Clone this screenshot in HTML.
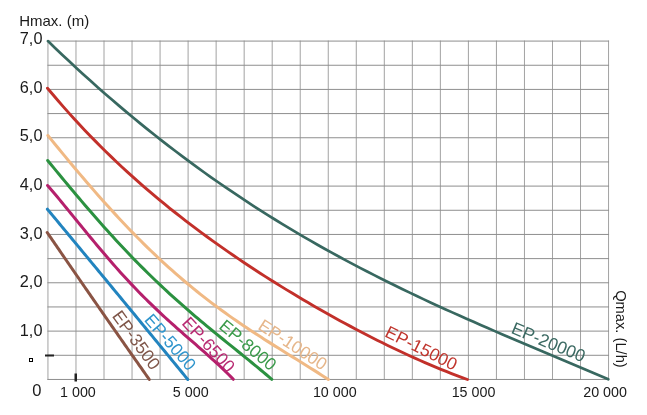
<!DOCTYPE html>
<html><head><meta charset="utf-8"><style>
html,body{margin:0;padding:0;background:#fff;}
body{width:647px;height:415px;overflow:hidden;}
svg{display:block;font-family:"Liberation Sans",sans-serif;}
svg{will-change:transform;}
</style></head><body>
<svg width="647" height="415" viewBox="0 0 647 415">
<rect width="647" height="415" fill="#fff"/>
<line x1="47.95" y1="40.58" x2="47.95" y2="379.96" stroke="#a2a2a2" stroke-width="1"/>
<line x1="75.98" y1="40.58" x2="75.98" y2="379.96" stroke="#a2a2a2" stroke-width="1"/>
<line x1="104.01" y1="40.58" x2="104.01" y2="379.96" stroke="#a2a2a2" stroke-width="1"/>
<line x1="132.04" y1="40.58" x2="132.04" y2="379.96" stroke="#a2a2a2" stroke-width="1"/>
<line x1="160.07" y1="40.58" x2="160.07" y2="379.96" stroke="#a2a2a2" stroke-width="1"/>
<line x1="188.10" y1="40.58" x2="188.10" y2="379.96" stroke="#a2a2a2" stroke-width="1"/>
<line x1="216.13" y1="40.58" x2="216.13" y2="379.96" stroke="#a2a2a2" stroke-width="1"/>
<line x1="244.16" y1="40.58" x2="244.16" y2="379.96" stroke="#a2a2a2" stroke-width="1"/>
<line x1="272.19" y1="40.58" x2="272.19" y2="379.96" stroke="#a2a2a2" stroke-width="1"/>
<line x1="300.22" y1="40.58" x2="300.22" y2="379.96" stroke="#a2a2a2" stroke-width="1"/>
<line x1="328.25" y1="40.58" x2="328.25" y2="379.96" stroke="#a2a2a2" stroke-width="1"/>
<line x1="356.28" y1="40.58" x2="356.28" y2="379.96" stroke="#a2a2a2" stroke-width="1"/>
<line x1="384.31" y1="40.58" x2="384.31" y2="379.96" stroke="#a2a2a2" stroke-width="1"/>
<line x1="412.34" y1="40.58" x2="412.34" y2="379.96" stroke="#a2a2a2" stroke-width="1"/>
<line x1="440.37" y1="40.58" x2="440.37" y2="379.96" stroke="#a2a2a2" stroke-width="1"/>
<line x1="468.40" y1="40.58" x2="468.40" y2="379.96" stroke="#a2a2a2" stroke-width="1"/>
<line x1="496.43" y1="40.58" x2="496.43" y2="379.96" stroke="#a2a2a2" stroke-width="1"/>
<line x1="524.46" y1="40.58" x2="524.46" y2="379.96" stroke="#a2a2a2" stroke-width="1"/>
<line x1="552.49" y1="40.58" x2="552.49" y2="379.96" stroke="#a2a2a2" stroke-width="1"/>
<line x1="580.52" y1="40.58" x2="580.52" y2="379.96" stroke="#a2a2a2" stroke-width="1"/>
<line x1="608.55" y1="40.58" x2="608.55" y2="379.96" stroke="#a2a2a2" stroke-width="1"/>
<line x1="47.45" y1="41.08" x2="609.05" y2="41.08" stroke="#8e8e8e" stroke-width="1"/>
<line x1="47.45" y1="65.25" x2="609.05" y2="65.25" stroke="#8e8e8e" stroke-width="1"/>
<line x1="47.45" y1="89.42" x2="609.05" y2="89.42" stroke="#8e8e8e" stroke-width="1"/>
<line x1="47.45" y1="113.59" x2="609.05" y2="113.59" stroke="#8e8e8e" stroke-width="1"/>
<line x1="47.45" y1="137.76" x2="609.05" y2="137.76" stroke="#8e8e8e" stroke-width="1"/>
<line x1="47.45" y1="161.93" x2="609.05" y2="161.93" stroke="#8e8e8e" stroke-width="1"/>
<line x1="47.45" y1="186.10" x2="609.05" y2="186.10" stroke="#8e8e8e" stroke-width="1"/>
<line x1="47.45" y1="210.27" x2="609.05" y2="210.27" stroke="#8e8e8e" stroke-width="1"/>
<line x1="47.45" y1="234.44" x2="609.05" y2="234.44" stroke="#8e8e8e" stroke-width="1"/>
<line x1="47.45" y1="258.61" x2="609.05" y2="258.61" stroke="#8e8e8e" stroke-width="1"/>
<line x1="47.45" y1="282.78" x2="609.05" y2="282.78" stroke="#8e8e8e" stroke-width="1"/>
<line x1="47.45" y1="306.95" x2="609.05" y2="306.95" stroke="#8e8e8e" stroke-width="1"/>
<line x1="47.45" y1="331.12" x2="609.05" y2="331.12" stroke="#8e8e8e" stroke-width="1"/>
<line x1="47.45" y1="355.29" x2="609.05" y2="355.29" stroke="#8e8e8e" stroke-width="1"/>
<line x1="47.45" y1="379.46" x2="609.05" y2="379.46" stroke="#8e8e8e" stroke-width="1"/>
<path d="M47.95,41.09 L55.04,47.93 L62.14,54.69 L69.23,61.35 L76.32,67.93 L83.42,74.43 L90.51,80.84 L97.60,87.16 L104.69,93.40 L111.79,99.56 L118.88,105.63 L125.97,111.62 L133.07,117.53 L140.16,123.36 L147.25,129.10 L154.35,134.77 L161.44,140.35 L168.53,145.86 L175.62,151.29 L182.72,156.64 L189.81,161.91 L196.90,167.11 L204.00,172.23 L211.09,177.28 L218.18,182.25 L225.28,187.15 L232.37,191.98 L239.46,196.74 L246.56,201.43 L253.65,206.05 L260.74,210.60 L267.83,215.09 L274.93,219.51 L282.02,223.86 L289.11,228.16 L296.21,232.39 L303.30,236.56 L310.39,240.66 L317.49,244.71 L324.58,248.71 L331.67,252.64 L338.76,256.53 L345.86,260.36 L352.95,264.13 L360.04,267.86 L367.14,271.54 L374.23,275.17 L381.32,278.75 L388.42,282.29 L395.51,285.78 L402.60,289.24 L409.69,292.65 L416.79,296.03 L423.88,299.37 L430.97,302.67 L438.07,305.94 L445.16,309.18 L452.25,312.39 L459.35,315.57 L466.44,318.72 L473.53,321.85 L480.63,324.96 L487.72,328.05 L494.81,331.12 L501.90,334.17 L509.00,337.20 L516.09,340.23 L523.18,343.24 L530.28,346.24 L537.37,349.24 L544.46,352.23 L551.56,355.22 L558.65,358.21 L565.74,361.20 L572.83,364.19 L579.93,367.19 L587.02,370.20 L594.11,373.22 L601.21,376.25 L608.30,379.30" fill="none" stroke="#386860" stroke-width="2.7" stroke-linecap="round"/>
<path d="M47.50,88.20 L52.82,94.55 L58.13,100.77 L63.45,106.87 L68.77,112.86 L74.08,118.73 L79.40,124.49 L84.72,130.14 L90.03,135.69 L95.35,141.13 L100.66,146.48 L105.98,151.73 L111.30,156.89 L116.61,161.96 L121.93,166.94 L127.25,171.84 L132.56,176.65 L137.88,181.38 L143.20,186.04 L148.51,190.63 L153.83,195.14 L159.15,199.58 L164.46,203.95 L169.78,208.26 L175.09,212.50 L180.41,216.69 L185.73,220.81 L191.04,224.87 L196.36,228.88 L201.68,232.84 L206.99,236.74 L212.31,240.59 L217.63,244.39 L222.94,248.15 L228.26,251.86 L233.58,255.52 L238.89,259.14 L244.21,262.71 L249.53,266.24 L254.84,269.74 L260.16,273.19 L265.47,276.60 L270.79,279.98 L276.11,283.32 L281.42,286.62 L286.74,289.88 L292.06,293.11 L297.37,296.31 L302.69,299.47 L308.01,302.60 L313.32,305.69 L318.64,308.75 L323.96,311.77 L329.27,314.77 L334.59,317.73 L339.91,320.65 L345.22,323.54 L350.54,326.40 L355.85,329.23 L361.17,332.02 L366.49,334.77 L371.80,337.49 L377.12,340.18 L382.44,342.82 L387.75,345.43 L393.07,348.01 L398.39,350.54 L403.70,353.04 L409.02,355.49 L414.34,357.91 L419.65,360.28 L424.97,362.61 L430.28,364.89 L435.60,367.13 L440.92,369.32 L446.23,371.46 L451.55,373.55 L456.87,375.59 L462.18,377.57 L467.50,379.50" fill="none" stroke="#c2302a" stroke-width="2.9" stroke-linecap="round"/>
<path d="M47.90,135.49 L51.45,139.86 L55.00,144.21 L58.55,148.55 L62.10,152.86 L65.65,157.16 L69.20,161.44 L72.75,165.69 L76.31,169.92 L79.86,174.12 L83.41,178.29 L86.96,182.44 L90.51,186.55 L94.06,190.63 L97.61,194.68 L101.16,198.69 L104.71,202.67 L108.26,206.61 L111.81,210.51 L115.36,214.38 L118.91,218.20 L122.46,221.99 L126.01,225.73 L129.56,229.43 L133.12,233.10 L136.67,236.71 L140.22,240.29 L143.77,243.82 L147.32,247.31 L150.87,250.75 L154.42,254.15 L157.97,257.50 L161.52,260.81 L165.07,264.08 L168.62,267.30 L172.17,270.48 L175.72,273.61 L179.27,276.70 L182.82,279.74 L186.37,282.74 L189.93,285.70 L193.48,288.62 L197.03,291.49 L200.58,294.33 L204.13,297.12 L207.68,299.87 L211.23,302.59 L214.78,305.26 L218.33,307.90 L221.88,310.50 L225.43,313.07 L228.98,315.61 L232.53,318.11 L236.08,320.58 L239.63,323.02 L243.18,325.43 L246.74,327.81 L250.29,330.17 L253.84,332.51 L257.39,334.82 L260.94,337.11 L264.49,339.39 L268.04,341.64 L271.59,343.88 L275.14,346.11 L278.69,348.33 L282.24,350.54 L285.79,352.74 L289.34,354.93 L292.89,357.13 L296.44,359.32 L299.99,361.52 L303.55,363.72 L307.10,365.93 L310.65,368.15 L314.20,370.38 L317.75,372.63 L321.30,374.90 L324.85,377.19 L328.40,379.50" fill="none" stroke="#f0b984" stroke-width="3.0" stroke-linecap="round"/>
<path d="M47.70,160.50 L50.54,163.95 L53.37,167.40 L56.21,170.85 L59.05,174.29 L61.88,177.72 L64.72,181.14 L67.56,184.55 L70.39,187.94 L73.23,191.33 L76.07,194.70 L78.90,198.05 L81.74,201.39 L84.58,204.71 L87.41,208.01 L90.25,211.30 L93.09,214.57 L95.92,217.81 L98.76,221.04 L101.60,224.24 L104.43,227.42 L107.27,230.58 L110.11,233.71 L112.94,236.83 L115.78,239.91 L118.62,242.98 L121.45,246.01 L124.29,249.03 L127.13,252.02 L129.96,254.98 L132.80,257.92 L135.64,260.83 L138.47,263.71 L141.31,266.57 L144.15,269.41 L146.98,272.21 L149.82,275.00 L152.66,277.75 L155.49,280.49 L158.33,283.19 L161.17,285.87 L164.01,288.53 L166.84,291.17 L169.68,293.78 L172.52,296.36 L175.35,298.93 L178.19,301.47 L181.03,303.99 L183.86,306.49 L186.70,308.97 L189.54,311.43 L192.37,313.87 L195.21,316.30 L198.05,318.71 L200.88,321.10 L203.72,323.47 L206.56,325.84 L209.39,328.19 L212.23,330.52 L215.07,332.85 L217.90,335.17 L220.74,337.48 L223.58,339.78 L226.41,342.08 L229.25,344.37 L232.09,346.66 L234.92,348.95 L237.76,351.24 L240.60,353.53 L243.43,355.82 L246.27,358.12 L249.11,360.42 L251.94,362.73 L254.78,365.05 L257.62,367.39 L260.45,369.74 L263.29,372.10 L266.13,374.48 L268.96,376.88 L271.80,379.30" fill="none" stroke="#2b9140" stroke-width="3.0" stroke-linecap="round"/>
<path d="M47.60,185.50 L49.95,188.23 L52.30,190.99 L54.65,193.77 L57.00,196.57 L59.35,199.40 L61.70,202.24 L64.05,205.09 L66.41,207.95 L68.76,210.83 L71.11,213.70 L73.46,216.59 L75.81,219.47 L78.16,222.36 L80.51,225.24 L82.86,228.12 L85.21,230.99 L87.56,233.86 L89.91,236.72 L92.26,239.56 L94.61,242.40 L96.96,245.21 L99.31,248.02 L101.66,250.81 L104.02,253.58 L106.37,256.33 L108.72,259.06 L111.07,261.77 L113.42,264.46 L115.77,267.12 L118.12,269.77 L120.47,272.39 L122.82,274.98 L125.17,277.55 L127.52,280.10 L129.87,282.62 L132.22,285.12 L134.57,287.59 L136.92,290.03 L139.27,292.45 L141.63,294.84 L143.98,297.21 L146.33,299.56 L148.68,301.88 L151.03,304.17 L153.38,306.45 L155.73,308.70 L158.08,310.92 L160.43,313.13 L162.78,315.32 L165.13,317.48 L167.48,319.63 L169.83,321.76 L172.18,323.88 L174.53,325.98 L176.88,328.07 L179.24,330.15 L181.59,332.21 L183.94,334.27 L186.29,336.32 L188.64,338.37 L190.99,340.41 L193.34,342.45 L195.69,344.49 L198.04,346.54 L200.39,348.59 L202.74,350.65 L205.09,352.72 L207.44,354.80 L209.79,356.90 L212.14,359.01 L214.49,361.14 L216.85,363.30 L219.20,365.48 L221.55,367.70 L223.90,369.94 L226.25,372.22 L228.60,374.54 L230.95,376.90 L233.30,379.30" fill="none" stroke="#b5206c" stroke-width="3.0" stroke-linecap="round"/>
<path d="M47.40,209.20 L49.18,211.34 L50.95,213.48 L52.73,215.63 L54.51,217.77 L56.29,219.91 L58.06,222.05 L59.84,224.20 L61.62,226.34 L63.39,228.49 L65.17,230.63 L66.95,232.78 L68.73,234.92 L70.50,237.07 L72.28,239.21 L74.06,241.36 L75.84,243.51 L77.61,245.65 L79.39,247.80 L81.17,249.95 L82.94,252.10 L84.72,254.25 L86.50,256.40 L88.28,258.55 L90.05,260.70 L91.83,262.85 L93.61,265.00 L95.38,267.15 L97.16,269.30 L98.94,271.45 L100.72,273.60 L102.49,275.75 L104.27,277.91 L106.05,280.06 L107.83,282.21 L109.60,284.37 L111.38,286.52 L113.16,288.68 L114.93,290.83 L116.71,292.99 L118.49,295.14 L120.27,297.30 L122.04,299.45 L123.82,301.61 L125.60,303.77 L127.37,305.93 L129.15,308.08 L130.93,310.24 L132.71,312.40 L134.48,314.56 L136.26,316.72 L138.04,318.88 L139.82,321.04 L141.59,323.20 L143.37,325.36 L145.15,327.52 L146.92,329.68 L148.70,331.85 L150.48,334.01 L152.26,336.17 L154.03,338.33 L155.81,340.50 L157.59,342.66 L159.36,344.83 L161.14,346.99 L162.92,349.15 L164.70,351.32 L166.47,353.49 L168.25,355.65 L170.03,357.82 L171.81,359.98 L173.58,362.15 L175.36,364.32 L177.14,366.49 L178.91,368.66 L180.69,370.82 L182.47,372.99 L184.25,375.16 L186.02,377.33 L187.80,379.50" fill="none" stroke="#2284bf" stroke-width="3.0" stroke-linecap="round"/>
<path d="M47.20,232.50 L48.49,234.39 L49.78,236.28 L51.08,238.16 L52.37,240.05 L53.66,241.94 L54.95,243.82 L56.25,245.70 L57.54,247.59 L58.83,249.47 L60.12,251.35 L61.42,253.23 L62.71,255.11 L64.00,256.99 L65.29,258.87 L66.59,260.75 L67.88,262.63 L69.17,264.51 L70.46,266.38 L71.76,268.26 L73.05,270.13 L74.34,272.01 L75.63,273.88 L76.93,275.76 L78.22,277.63 L79.51,279.50 L80.80,281.37 L82.09,283.24 L83.39,285.11 L84.68,286.98 L85.97,288.85 L87.26,290.71 L88.56,292.58 L89.85,294.44 L91.14,296.31 L92.43,298.17 L93.73,300.04 L95.02,301.90 L96.31,303.76 L97.60,305.62 L98.90,307.49 L100.19,309.35 L101.48,311.20 L102.77,313.06 L104.07,314.92 L105.36,316.78 L106.65,318.63 L107.94,320.49 L109.24,322.35 L110.53,324.20 L111.82,326.05 L113.11,327.91 L114.41,329.76 L115.70,331.61 L116.99,333.46 L118.28,335.31 L119.57,337.16 L120.87,339.01 L122.16,340.86 L123.45,342.70 L124.74,344.55 L126.04,346.40 L127.33,348.24 L128.62,350.09 L129.91,351.93 L131.21,353.77 L132.50,355.62 L133.79,357.46 L135.08,359.30 L136.38,361.14 L137.67,362.98 L138.96,364.82 L140.25,366.65 L141.55,368.49 L142.84,370.33 L144.13,372.16 L145.42,374.00 L146.72,375.83 L148.01,377.67 L149.30,379.50" fill="none" stroke="#8a5444" stroke-width="3.0" stroke-linecap="round"/>
<g transform="translate(136.5,339.8) rotate(54)"><text x="0" y="6.30" text-anchor="middle" font-size="17.5" fill="#7f5649">EP-3500</text></g>
<g transform="translate(170.6,341.9) rotate(49)"><text x="0" y="6.30" text-anchor="middle" font-size="17.5" fill="#2f95cc">EP-5000</text></g>
<g transform="translate(208.9,344.3) rotate(47)"><text x="0" y="6.30" text-anchor="middle" font-size="17.5" fill="#b82a72">EP-6500</text></g>
<g transform="translate(248.1,344.8) rotate(40)"><text x="0" y="6.30" text-anchor="middle" font-size="17.5" fill="#3a9a4a">EP-8000</text></g>
<g transform="translate(293,344.3) rotate(33)"><text x="0" y="6.30" text-anchor="middle" font-size="17.5" fill="#e6b68a">EP-10000</text></g>
<g transform="translate(421.5,347.8) rotate(26.5)"><text x="0" y="6.30" text-anchor="middle" font-size="17.5" fill="#c0342c">EP-15000</text></g>
<g transform="translate(548.7,341.8) rotate(22.5)"><text x="0" y="6.30" text-anchor="middle" font-size="17.5" fill="#3c6a63">EP-20000</text></g>
<rect x="45" y="354.5" width="9" height="2" fill="#222"/>
<rect x="74.5" y="373.5" width="2.5" height="8" fill="#222"/>
<rect x="29.5" y="358.5" width="3" height="3" fill="#fff" stroke="#000" stroke-width="1"/>
<text x="19.2" y="26.2" font-size="15" fill="#1a1a1a">Hmax. (m)</text>
<text x="19.8" y="44.00" font-size="16.3" fill="#1a1a1a">7,0</text>
<text x="19.8" y="92.67" font-size="16.3" fill="#1a1a1a">6,0</text>
<text x="19.8" y="141.34" font-size="16.3" fill="#1a1a1a">5,0</text>
<text x="19.8" y="190.01" font-size="16.3" fill="#1a1a1a">4,0</text>
<text x="19.8" y="238.68" font-size="16.3" fill="#1a1a1a">3,0</text>
<text x="19.8" y="287.35" font-size="16.3" fill="#1a1a1a">2,0</text>
<text x="19.8" y="336.02" font-size="16.3" fill="#1a1a1a">1,0</text>
<text x="32.3" y="396.3" font-size="16.5" fill="#1a1a1a">0</text>
<text x="60.03" y="396.7" font-size="14.3" fill="#1a1a1a">1 000</text>
<text x="172.83" y="396.7" font-size="14.3" fill="#1a1a1a">5 000</text>
<text x="312.93" y="396.7" font-size="14.3" fill="#1a1a1a">10 000</text>
<text x="451.63" y="396.7" font-size="14.3" fill="#1a1a1a">15 000</text>
<text x="583.23" y="396.7" font-size="14.3" fill="#1a1a1a">20 000</text>
<g transform="translate(615.9,290.2) rotate(90)"><text x="0" y="0" font-size="14.7" fill="#1a1a1a">Qmax. (L/h)</text></g>
</svg>
</body></html>
